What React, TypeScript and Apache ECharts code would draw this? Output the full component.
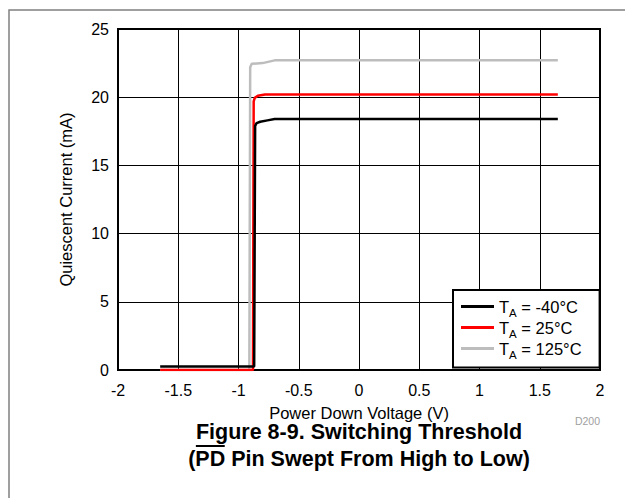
import React, { useEffect, useRef } from 'react';
import * as echarts from 'echarts';

const seriesNames = ['TA = -40°C', 'TA = 25°C', 'TA = 125°C'];
const seriesColors = ['#000000', '#ff0000', '#bdbdbd'];
const xTicks = { min: -2, max: 2, interval: 0.5 };
const yTicks = { min: 0, max: 25, interval: 5 };

// [voltage, current]
const dataM40: number[][] = [
  [-1.65, 0.25], [-0.87, 0.25], [-0.862, 17.9], [-0.85, 18.1], [-0.82, 18.2],
  [-0.76, 18.3], [-0.7, 18.4], [0, 18.4], [1.65, 18.4],
];
const data25: number[][] = [
  [-1.65, 0.0], [-0.88, 0.0], [-0.874, 19.7], [-0.865, 19.95], [-0.84, 20.1],
  [-0.78, 20.2], [0, 20.2], [1.65, 20.2],
];
const data125: number[][] = [
  [-1.65, 0.0], [-0.91, 0.0], [-0.903, 22.2], [-0.89, 22.45], [-0.8, 22.5],
  [-0.7, 22.7], [0, 22.7], [1.65, 22.7],
];

const FONT = '"Liberation Sans", Arial, sans-serif';

function textWidth(text: string, font: string): number {
  const c = document.createElement('canvas').getContext('2d');
  if (!c) return text.length * 10;
  c.font = font;
  return c.measureText(text).width;
}

export default function App() {
  const ref = useRef<HTMLDivElement>(null);
  useEffect(() => {
    document.body.style.margin = '0';
    if (!ref.current) return;
    const chart = echarts.init(ref.current, undefined, { renderer: 'svg' });

    const titleSize = 21.5;
    const titleFont = `bold ${titleSize}px "Liberation Sans"`;
    const line2 = '(PD Pin Swept From High to Low)';
    const cx = 359;
    const w2 = textWidth(line2, titleFont);
    const wParen = textWidth('(', titleFont);
    const wPD = textWidth('PD', titleFont);
    const pdStart = cx - w2 / 2 + wParen;

    const legendRich: Record<string, string> = {};
    seriesNames.forEach((n) => {
      legendRich[n] = '{t|T}{s|A}{t|' + n.slice(2) + '}';
    });

    const allData = [dataM40, data25, data125];
    const order = [2, 1, 0];
    chart.setOption({
      animation: false,
      grid: {
        left: 118, top: 29, width: 482, height: 341,
        show: true, borderColor: '#000', borderWidth: 2, backgroundColor: 'transparent',
      },
      xAxis: {
        type: 'value', min: xTicks.min, max: xTicks.max, interval: xTicks.interval,
        axisLine: { show: false }, axisTick: { show: false },
        splitLine: { show: true, lineStyle: { color: '#000', width: 1 } },
        axisLabel: { color: '#000', fontSize: 16, fontFamily: FONT, margin: 12 },
        name: 'Power Down Voltage (V)', nameLocation: 'middle', nameGap: 34,
        nameTextStyle: { color: '#000', fontSize: 16.5, fontFamily: FONT },
      },
      yAxis: {
        type: 'value', min: yTicks.min, max: yTicks.max, interval: yTicks.interval,
        axisLine: { show: false }, axisTick: { show: false },
        splitLine: { show: true, lineStyle: { color: '#000', width: 1 } },
        axisLabel: { color: '#000', fontSize: 16, fontFamily: FONT, margin: 9 },
        name: 'Quiescent Current (mA)', nameLocation: 'middle', nameGap: 44,
        nameTextStyle: { color: '#000', fontSize: 16.5, fontFamily: FONT },
      },
      legend: {
        orient: 'vertical', left: 453, top: 290,
        data: seriesNames,
        backgroundColor: '#fff', borderColor: '#000', borderWidth: 2,
        padding: [8, 18, 7, 8], itemGap: 0.5, itemWidth: 33, itemHeight: 3,
        icon: 'rect',
        formatter: (n: string) => legendRich[n],
        textStyle: {
          color: '#000', fontFamily: FONT,
          rich: {
            t: { fontSize: 16.5, fontFamily: FONT, color: '#000', lineHeight: 18 },
            s: { fontSize: 11.5, fontFamily: FONT, color: '#000', lineHeight: 11, verticalAlign: 'bottom', padding: [0, 0, -3, 0] },
          },
        },
      },
      series: order.map((i) => ({
        name: seriesNames[i], type: 'line', data: allData[i], showSymbol: false,
        color: seriesColors[i],
        lineStyle: { color: seriesColors[i], width: 2.5 },
        z: 3 + (2 - i),
      })),
      graphic: [
        {
          type: 'rect', shape: { x: 9, y: 10, width: 800, height: 700 },
          style: { fill: 'none', stroke: '#808080', lineWidth: 1.5 }, silent: true,
        },
        {
          type: 'text', x: 600, y: 421,
          style: { text: 'D200', fill: '#a0a0a0', fontSize: 10.5, fontFamily: FONT, align: 'right', verticalAlign: 'middle' },
        },
        {
          type: 'text', x: cx, y: 432,
          style: { text: 'Figure 8-9. Switching Threshold', fill: '#000', fontSize: titleSize, fontWeight: 'bold', fontFamily: FONT, align: 'center', verticalAlign: 'middle' },
        },
        {
          type: 'text', x: cx, y: 459,
          style: { text: line2, fill: '#000', fontSize: titleSize, fontWeight: 'bold', fontFamily: FONT, align: 'center', verticalAlign: 'middle' },
        },
        {
          type: 'line', shape: { x1: pdStart + 0.5, y1: 446, x2: pdStart + wPD - 0.5, y2: 446 },
          style: { stroke: '#000', lineWidth: 2 },
        },
      ],
    });
    return () => chart.dispose();
  }, []);
  return <div ref={ref} style={{ width: 625, height: 498 }} />;
}
